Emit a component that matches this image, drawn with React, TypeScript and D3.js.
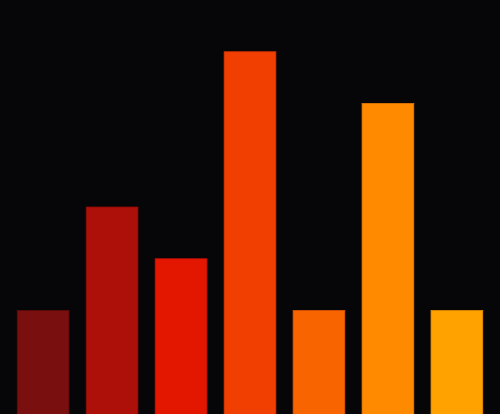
import React from "react";
import * as d3 from "d3";

const categories = ["A", "B", "C", "D", "E", "F", "G"];
const values = [2, 4, 3, 7, 2, 6, 2];
const colors = ["#7a0f10", "#ac1008", "#e31600", "#f03f00", "#f86400", "#ff8a00", "#ffa200"];
const strokes = ["#5e0a0b", "#8e0c06", "#c41200", "#d63400", "#dd5400", "#e67a00", "#e38f00"];

const W = 500;
const H = 414;

export default function App() {
  const x = d3.scaleBand<string>().domain(categories).range([0, W]).paddingInner(0.25).paddingOuter(0.25);
  const y = d3.scaleLinear().domain([0, 8]).range([H, 0]);
  return (
    <div style={{ position: "fixed", left: 0, top: 0, width: W, height: H }}>
      <svg width={W} height={H} style={{ display: "block" }}>
        <rect x={0} y={0} width={W} height={H} fill="#060508" />
        {categories.map((c, i) => (
          <rect
            key={c}
            x={x(c)}
            y={y(values[i])}
            width={x.bandwidth()}
            height={H - y(values[i]) + 2}
            fill={colors[i]}
            stroke={strokes[i]}
            strokeWidth={0.8}
          />
        ))}
      </svg>
    </div>
  );
}
